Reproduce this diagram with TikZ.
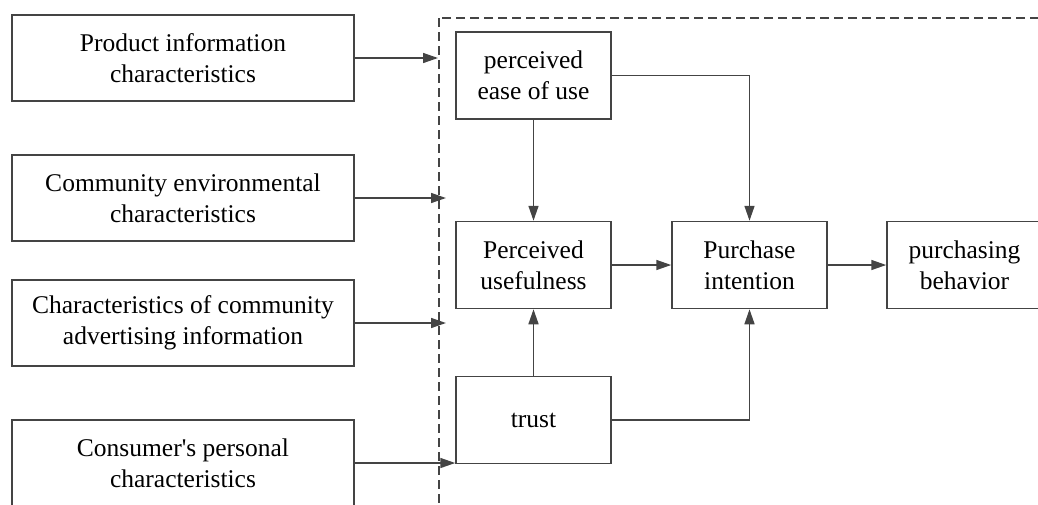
\documentclass[tikz,border=0pt]{standalone}
\usepackage{fontspec}
\setmainfont{Liberation Serif}[Ligatures=TeXOff]
\usetikzlibrary{arrows.meta}
\definecolor{linec}{HTML}{444444}
\tikzset{
  lbox/.style={draw=linec, line width=1.5pt, minimum width=342pt, minimum height=86pt, inner sep=0pt, align=center, font=\fontsize{25.5}{31}\selectfont},
  rbox/.style={draw=linec, line width=1.5pt, minimum width=155pt, minimum height=87pt, inner sep=0pt, align=center, font=\fontsize{25.5}{31}\selectfont},
  arr/.style={draw=linec, line width=1.5pt, -{Triangle[length=15pt,width=10pt]}},
  frame/.style={draw=linec, line width=1.5pt, dash pattern=on 9pt off 5pt}
}
\begin{document}
\begin{tikzpicture}[x=1pt,y=-1pt]
\useasboundingbox (0,0) rectangle (1038,504);
\clip (0,0) rectangle (1038,504);
\draw[frame] (439,18) rectangle (1060,530);
\node[lbox] (p1) at (183,58) {Product information\\characteristics};
\node[lbox] (p2) at (183,198) {Community environmental\\characteristics};
\node[lbox] (p3) at (183,323) {Characteristics of community\\advertising information};
\node[lbox] (p4) at (183,463) {Consumer's personal\\characteristics};
\node[rbox] (ease) at (533.5,75.5) {perceived\\ease of use};
\node[rbox] (useful) at (533.5,265) {Perceived\\usefulness};
\node[rbox] (trust) at (533.5,420) {trust};
\node[rbox] (intent) at (749.5,265) {Purchase\\intention};
\node[rbox] (behav) at (964.5,265) {purchasing\\behavior};
\coordinate (e1) at (438,58);
\coordinate (e2) at (446,198);
\coordinate (e3) at (446,323);
\draw[arr] (p1.east) -- (e1);
\draw[arr] (p2.east) -- (e2);
\draw[arr] (p3.east) -- (e3);
\draw[arr] (p4.east) -- (p4.east -| trust.west);
\draw[arr] (ease.south) -- (useful.north);
\draw[arr] (ease.east) -| (intent.north);
\draw[arr] (trust.north) -- (useful.south);
\draw[arr] (trust.east) -| (intent.south);
\draw[arr] (useful.east) -- (intent.west);
\draw[arr] (intent.east) -- (behav.west);
\end{tikzpicture}
\end{document}
